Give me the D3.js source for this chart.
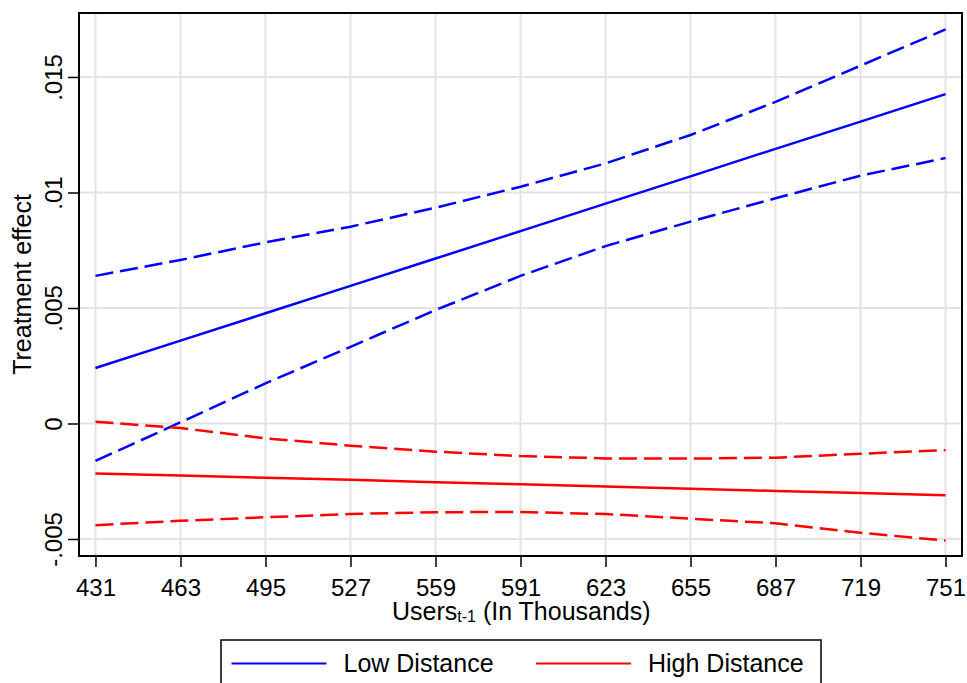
<!DOCTYPE html>
<html>
<head>
<meta charset="utf-8">
<script src="https://cdn.jsdelivr.net/npm/d3@7"></script>
<style>
  body { margin: 0; background: #fff; }
  text { font-family: 'Liberation Sans', Arial, sans-serif; fill: #000; }
</style>
</head>
<body>
<svg id="chart" width="967" height="683"></svg>
<script>
const users = [431, 463, 495, 527, 559, 591, 623, 655, 687, 719, 751];

// Low Distance
const lowEst = [0.0024, 0.00359, 0.00477, 0.00596, 0.00714, 0.00833, 0.00952, 0.0107, 0.01189, 0.01307, 0.01426];
const lowUpper = [0.00639, 0.00708, 0.00784, 0.00852, 0.00934, 0.01025, 0.01126, 0.01249, 0.01392, 0.01549, 0.01706];
const lowLower = [-0.00162, 0.00005, 0.00174, 0.00332, 0.00491, 0.00639, 0.00768, 0.00874, 0.00975, 0.01073, 0.01149];

// High Distance
const highEst = [-0.00216, -0.00225, -0.00235, -0.00244, -0.00254, -0.00263, -0.00273, -0.00282, -0.00292, -0.00301, -0.00311];
const highUpper = [0.00008, -0.0002, -0.00064, -0.00096, -0.00122, -0.00141, -0.00151, -0.00152, -0.00148, -0.00131, -0.00115];
const highLower = [-0.0044, -0.00421, -0.00406, -0.00392, -0.00384, -0.00383, -0.00392, -0.00412, -0.00432, -0.00473, -0.00507];

const yTicks = [-0.005, 0, 0.005, 0.01, 0.015];
const yTickLabels = ['-.005', '0', '.005', '.01', '.015'];

const svg = d3.select('#chart');
const margin = { top: 13, right: 5, bottom: 127, left: 79 };
const width = +svg.attr('width') - margin.left - margin.right;
const height = +svg.attr('height') - margin.top - margin.bottom;

const g = svg.append('g').attr('transform', `translate(${margin.left},${margin.top})`);

const x = d3.scaleLinear().domain([424.8, 757.2]).range([0, width]);
const y = d3.scaleLinear().domain([-0.005736, 0.01777]).range([height, 0]);

// grid
g.append('g')
  .selectAll('line')
  .data(users)
  .enter().append('line')
  .attr('x1', d => x(d)).attr('x2', d => x(d))
  .attr('y1', 0).attr('y2', height)
  .attr('stroke', '#e3e3e3').attr('stroke-width', 2);

g.append('g')
  .selectAll('line')
  .data(yTicks)
  .enter().append('line')
  .attr('x1', 0).attr('x2', width)
  .attr('y1', d => y(d)).attr('y2', d => y(d))
  .attr('stroke', '#e3e3e3').attr('stroke-width', 2);

// axes
const xAxis = d3.axisBottom(x).tickValues(users).tickSize(11).tickPadding(12).tickFormat(d3.format('d'));
const yAxis = d3.axisLeft(y).tickValues(yTicks).tickSize(11)
  .tickFormat((d, i) => yTickLabels[i]);

const gx = g.append('g').attr('transform', `translate(0,${height})`).call(xAxis);
gx.select('.domain').remove();
gx.selectAll('line').attr('stroke', '#000').attr('stroke-width', 1.5);
gx.selectAll('text')
  .attr('font-size', 24)
  .attr('font-family', "'Liberation Sans', Arial, sans-serif")
  .attr('dy', null)
  .attr('y', 40);

const gy = g.append('g').call(yAxis);
gy.select('.domain').remove();
gy.selectAll('line').attr('stroke', '#000').attr('stroke-width', 1.5);
gy.selectAll('text')
  .attr('font-size', 24)
  .attr('font-family', "'Liberation Sans', Arial, sans-serif")
  .attr('text-anchor', 'middle')
  .attr('x', null)
  .attr('dy', null)
  .attr('transform', 'translate(-17.5,0) rotate(-90)');

// frame
g.append('rect')
  .attr('width', width).attr('height', height)
  .attr('fill', 'none').attr('stroke', '#000').attr('stroke-width', 2);

// lines
const line = d3.line()
  .x((d, i) => x(users[i]))
  .y(d => y(d));

const series = [
  { data: lowUpper, color: '#0000ff', dash: '18,7' },
  { data: lowLower, color: '#0000ff', dash: '18,7' },
  { data: lowEst, color: '#0000ff', dash: null },
  { data: highUpper, color: '#ff0000', dash: '18,7' },
  { data: highLower, color: '#ff0000', dash: '18,7' },
  { data: highEst, color: '#ff0000', dash: null },
];

g.selectAll('.series')
  .data(series)
  .enter().append('path')
  .attr('class', 'series')
  .attr('d', d => line(d.data))
  .attr('fill', 'none')
  .attr('stroke', d => d.color)
  .attr('stroke-width', 2.5)
  .attr('stroke-dasharray', d => d.dash);

// axis titles
const xt = svg.append('text')
  .attr('x', 392)
  .attr('y', 620)
  .attr('font-size', 25);
xt.append('tspan').text('Users');
xt.append('tspan').attr('font-size', 16).attr('dy', 2).text('t-1');
xt.append('tspan').attr('dy', -2).text(' (In Thousands)');

svg.append('text')
  .attr('transform', `translate(31,${margin.top + height / 2}) rotate(-90)`)
  .attr('text-anchor', 'middle')
  .attr('font-size', 25)
  .text('Treatment effect');

// legend
const legend = svg.append('g').attr('transform', 'translate(221,640)');
legend.append('rect')
  .attr('width', 600).attr('height', 60)
  .attr('fill', '#fff').attr('stroke', '#000').attr('stroke-width', 1.5);

const legendItems = [
  { label: 'Low Distance', color: '#0000ff', x: 10.5 },
  { label: 'High Distance', color: '#ff0000', x: 315 },
];
const li = legend.selectAll('.li').data(legendItems).enter().append('g')
  .attr('transform', d => `translate(${d.x},0)`);
li.append('line')
  .attr('x1', 0).attr('x2', 95).attr('y1', 23.5).attr('y2', 23.5)
  .attr('stroke', d => d.color).attr('stroke-width', 2);
li.append('text')
  .attr('x', 112).attr('y', 31.5)
  .attr('font-size', 25)
  .text(d => d.label);
</script>
</body>
</html>
